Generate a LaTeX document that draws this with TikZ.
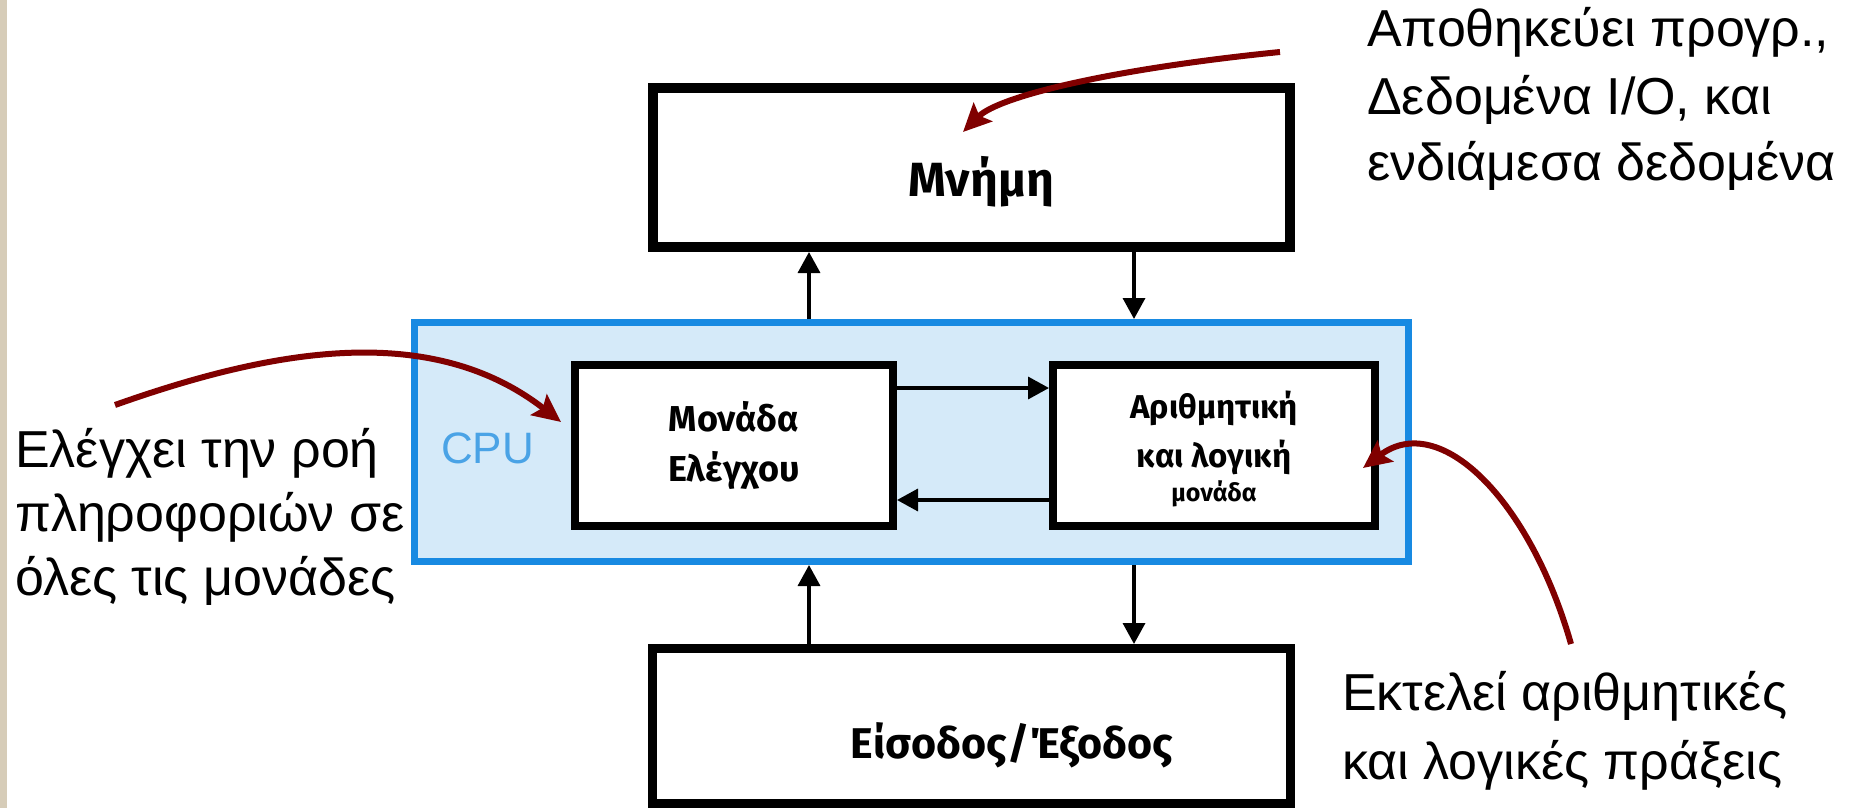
\documentclass[tikz,border=0pt]{standalone}
\usepackage{fontspec}
\setmainfont{Liberation Sans}
\newfontfamily\boxfont{Fira Sans}
\usetikzlibrary{arrows.meta}
\definecolor{darkred}{RGB}{128,0,0}
\definecolor{cpublue}{RGB}{24,138,226}
\definecolor{cpufill}{RGB}{213,234,249}
\definecolor{cpulabel}{RGB}{74,163,230}
\definecolor{strip}{RGB}{214,204,184}
\begin{document}
\begin{tikzpicture}[x=1pt,y=-1pt,
  unitbox/.style={draw=black, fill=white, line width=#1, inner sep=0pt, align=center},
  boxtext/.style={font=\boxfont\bfseries, inner sep=0pt, align=center},
  note/.style={anchor=base west, inner sep=0pt, font=\fontsize{52}{64}\selectfont},
  flow/.style={line width=3.5pt, -{Triangle[width=22pt,length=21pt]}},
  callout/.style={draw=darkred, line width=6pt, -{Stealth[length=28pt,width=26pt,inset=5pt]}}]
\useasboundingbox (0,0) rectangle (1853,808);
\fill[white] (0,0) rectangle (1853,808);
\fill[strip] (0,0) rectangle (7,808);

% boxes
\node[unitbox=10, minimum width=637pt, minimum height=159pt] (mem) at (971.5,167.5) {};
\node[unitbox=9, minimum width=638pt, minimum height=155pt] (io) at (971.5,726) {};
\node[draw=cpublue, fill=cpufill, line width=7pt, minimum width=994pt, minimum height=239pt, inner sep=0pt] (cpu) at (911.5,442) {};
\node[unitbox=8, minimum width=318pt, minimum height=161pt, font=\boxfont\bfseries\fontsize{36}{50}\selectfont] (cu) at (734,445.5) {Μονάδα\\Ελέγχου};
\node[unitbox=8, minimum width=322pt, minimum height=161pt] (alu) at (1214,445.5) {};

% box labels
\node[boxtext, font=\boxfont\bfseries\fontsize{48}{50}\selectfont, anchor=base] (memlabel) at (981,196) {Μνήμη};
\node[boxtext, font=\boxfont\bfseries\fontsize{43}{50}\selectfont, anchor=base] (iolabel) at (1012,758) {Είσοδος/Έξοδος};
\node[boxtext, font=\boxfont\bfseries\fontsize{33}{50}\selectfont, anchor=base] (alu1) at (1214,418) {Αριθμητική};
\node[boxtext, font=\boxfont\bfseries\fontsize{33}{50}\selectfont, anchor=base] (alu2) at (1214,467) {και λογική};
\node[boxtext, font=\boxfont\bfseries\fontsize{25}{30}\selectfont, anchor=base] (alu3) at (1214,501) {μονάδα};
\node[anchor=base west, inner sep=0pt, text=cpulabel, font=\fontsize{44}{50}\selectfont] (cpulbl) at (441,463) {CPU};

% connector positions
\coordinate (xa) at (809,0);
\coordinate (xb) at (1134,0);
\coordinate (ya) at (0,388);
\coordinate (yb) at (0,500);

\draw[flow] (cpu.north -| xa) -- (mem.south -| xa);
\draw[flow] (mem.south -| xb) -- (cpu.north -| xb);
\draw[flow] (io.north -| xa) -- (cpu.south -| xa);
\draw[flow] (cpu.south -| xb) -- (io.north -| xb);
\draw[flow] (cu.east |- ya) -- (alu.west |- ya);
\draw[flow] (alu.west |- yb) -- (cu.east |- yb);

% annotations
\node[note] (tr1) at (1367,47) {Αποθηκεύει προγρ.,};
\node[note] (tr2) at (1367,114) {Δεδομένα I/O, και};
\node[note] (tr3) at (1367,180) {ενδιάμεσα δεδομένα};
\node[note] (lt1) at (15,467) {Ελέγχει την ροή};
\node[note] (lt2) at (15,531) {πληροφοριών σε};
\node[note] (lt3) at (15,595) {όλες τις μονάδες};
\node[note] (br1) at (1342,710) {Εκτελεί αριθμητικές};
\node[note] (br2) at (1342,779) {και λογικές πράξεις};

% callout arrows
\coordinate (m0) at (1280,52);
\coordinate (m1) at (963,132);
\coordinate (c0) at (115,405);
\coordinate (c1) at (561,422);
\coordinate (a0) at (1571,644);
\coordinate (a1) at (1363,468);
\draw[callout] (m0) .. controls (1120,68) and (1000,95) .. (m1);
\draw[callout] (c0) .. controls (270,350) and (430,320) .. (c1);
\draw[callout] (a0) .. controls (1530,500) and (1440,410) .. (a1);
\end{tikzpicture}
\end{document}
